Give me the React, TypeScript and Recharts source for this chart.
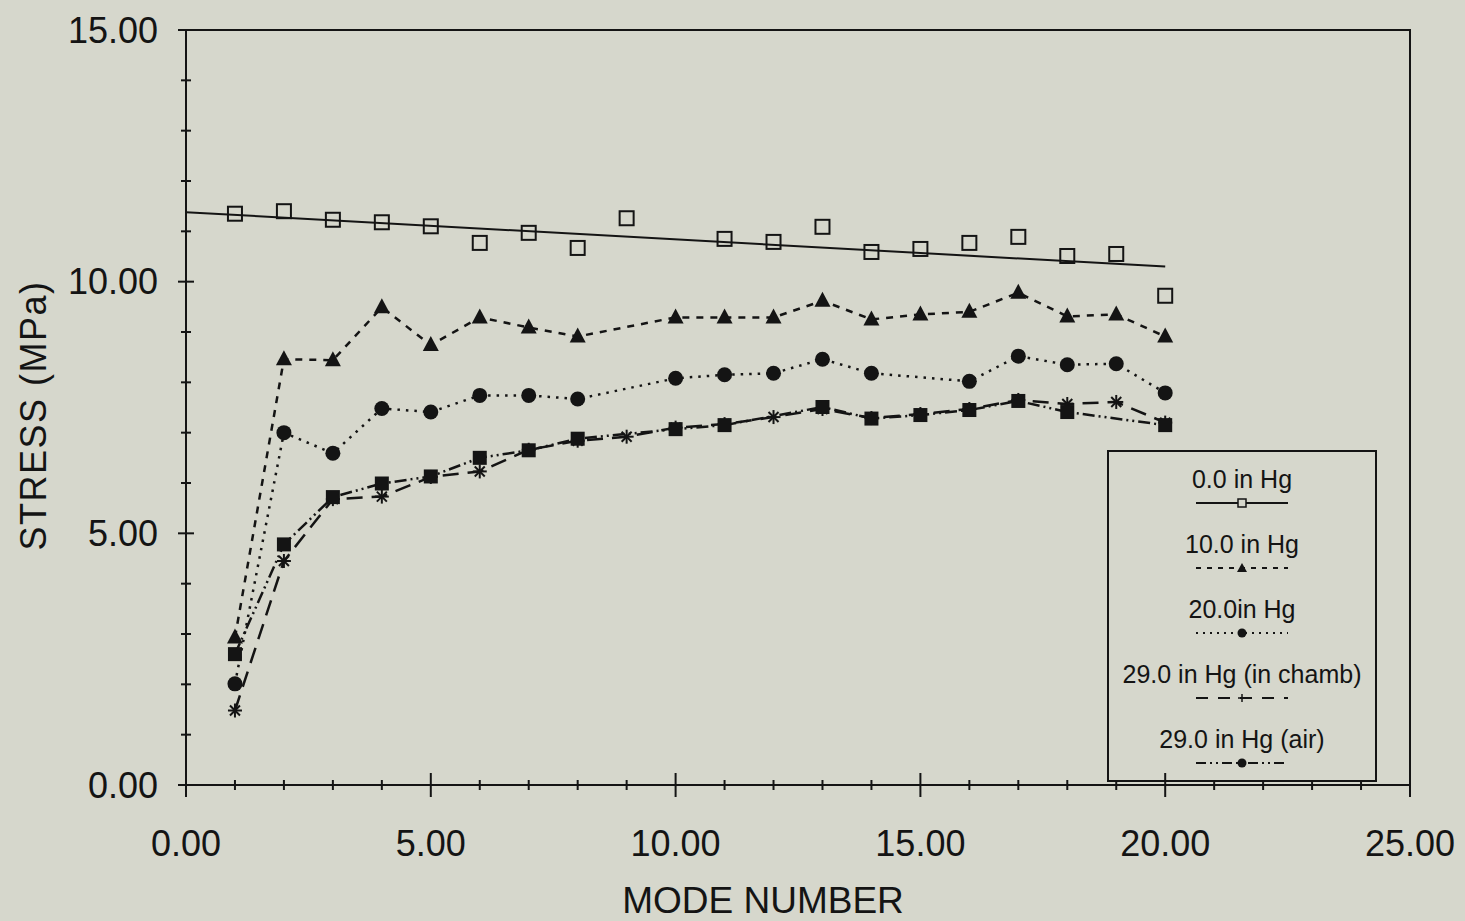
import React from 'react';
import { ComposedChart, Line, XAxis, YAxis, ReferenceArea, Legend } from 'recharts';

// ---------- data ----------
const modes = [1, 2, 3, 4, 5, 6, 7, 8, 9, 10, 11, 12, 13, 14, 15, 16, 17, 18, 19, 20];
const hg0 = [11.35, 11.4, 11.23, 11.18, 11.1, 10.77, 10.97, 10.67, 11.26, null, 10.85, 10.79, 11.09, 10.59, 10.65, 10.77, 10.89, 10.51, 10.55, 9.72];
const hg10 = [2.93, 8.46, 8.44, 9.49, 8.74, 9.29, 9.09, 8.91, null, 9.29, 9.29, 9.29, 9.62, 9.25, 9.35, 9.4, 9.78, 9.31, 9.35, 8.91];
const hg20 = [2.01, 7.0, 6.59, 7.48, 7.41, 7.74, 7.74, 7.67, null, 8.08, 8.15, 8.18, 8.46, 8.18, null, 8.02, 8.52, 8.35, 8.37, 7.79];
const hg29Chamb = [1.48, 4.45, 5.68, 5.73, 6.12, 6.23, 6.66, 6.84, 6.92, 7.1, 7.17, 7.31, 7.47, 7.29, 7.37, 7.47, 7.65, 7.57, 7.61, 7.2];
const hg29Air = [2.6, 4.78, 5.72, 5.99, 6.13, 6.5, 6.65, 6.88, null, 7.07, 7.15, null, 7.51, 7.28, 7.35, 7.45, 7.63, 7.41, null, 7.15];
const fitModes = [0, 20];
const fitValues = [11.38, 10.3];

const xTicks = [0, 1, 2, 3, 4, 5, 6, 7, 8, 9, 10, 11, 12, 13, 14, 15, 16, 17, 18, 19, 20, 21, 22, 23, 24, 25];
const yTicks = [0, 1, 2, 3, 4, 5, 6, 7, 8, 9, 10, 11, 12, 13, 14, 15];
const seriesNames = ['0.0 in Hg', '10.0 in Hg', '20.0in Hg', '29.0 in Hg (in chamb)', '29.0 in Hg (air)'];
const xTitle = 'MODE NUMBER';
const yTitle = 'STRESS (MPa)';

// ---------- build table ----------
type Row = { x: number; fit?: number | null; hg0?: number | null; hg10?: number | null; hg20?: number | null; chamb?: number | null; air?: number | null };
const rows: Row[] = [];
const allX = Array.from(new Set([...fitModes, ...modes])).sort((a, b) => a - b);
allX.forEach((x) => {
  const i = modes.indexOf(x);
  const f = fitModes.indexOf(x);
  rows.push({
    x,
    fit: f >= 0 ? fitValues[f] : null,
    hg0: i >= 0 ? hg0[i] : null,
    hg10: i >= 0 ? hg10[i] : null,
    hg20: i >= 0 ? hg20[i] : null,
    chamb: i >= 0 ? hg29Chamb[i] : null,
    air: i >= 0 ? hg29Air[i] : null,
  });
});

// ---------- styles ----------
const INK = '#141414';
const BG = '#d6d7cc';
const FONT = '"Liberation Sans", Arial, Helvetica, sans-serif';

const ok = (p: any) => p && p.cx != null && p.cy != null && p.value != null && !Number.isNaN(p.cy);

const OpenSquare = (p: any) => {
  if (!ok(p)) return <g key={`os${p.index}`} />;
  return <rect key={`os${p.index}`} x={p.cx - 7} y={p.cy - 7} width={14} height={14} fill="none" stroke={INK} strokeWidth={2} />;
};
const Triangle = (p: any) => {
  if (!ok(p)) return <g key={`tr${p.index}`} />;
  const { cx, cy } = p;
  return <path key={`tr${p.index}`} d={`M${cx},${cy - 9} L${cx + 8},${cy + 6} L${cx - 8},${cy + 6} Z`} fill={INK} />;
};
const Circle = (p: any) => {
  if (!ok(p)) return <g key={`ci${p.index}`} />;
  return <circle key={`ci${p.index}`} cx={p.cx} cy={p.cy} r={7.5} fill={INK} />;
};
const FilledSquare = (p: any) => {
  if (!ok(p)) return <g key={`fs${p.index}`} />;
  return <rect key={`fs${p.index}`} x={p.cx - 7} y={p.cy - 7} width={14} height={14} fill={INK} />;
};
const Star = (p: any) => {
  if (!ok(p)) return <g key={`st${p.index}`} />;
  const { cx, cy } = p;
  const r = 7;
  return (
    <g key={`st${p.index}`} stroke={INK} strokeWidth={2}>
      <line x1={cx} y1={cy - r} x2={cx} y2={cy + r} />
      <line x1={cx - r} y1={cy} x2={cx + r} y2={cy} />
      <line x1={cx - 5} y1={cy - 5} x2={cx + 5} y2={cy + 5} />
      <line x1={cx - 5} y1={cy + 5} x2={cx + 5} y2={cy - 5} />
    </g>
  );
};

const XTick = (p: any) => {
  const { x, y, payload } = p;
  const v = payload.value;
  const major = v % 5 === 0;
  const h = major ? 12 : 5;
  return (
    <g>
      <line x1={x} x2={x} y1={y - h} y2={y + h} stroke={INK} strokeWidth={2} />
      {major && (
        <text x={x} y={y + 58} textAnchor="middle" dominantBaseline="central" fontSize={36} fontFamily={FONT} fill={INK}>
          {v.toFixed(2)}
        </text>
      )}
    </g>
  );
};
const YTick = (p: any) => {
  const { x, y, payload } = p;
  const v = payload.value;
  const major = v % 5 === 0;
  const h = major ? 8 : 5;
  return (
    <g>
      <line x1={x - h} x2={x + h} y1={y} y2={y} stroke={INK} strokeWidth={2} />
      {major && (
        <text x={x - 28} y={y} textAnchor="end" dominantBaseline="central" fontSize={36} fontFamily={FONT} fill={INK}>
          {v.toFixed(2)}
        </text>
      )}
    </g>
  );
};

const legendSamples = [
  { dash: undefined as string | undefined, marker: 'osq' },
  { dash: '5 6', marker: 'tri' },
  { dash: '2 5', marker: 'dot' },
  { dash: '12 10', marker: 'plus' },
  { dash: '10 4 2 4 2 4', marker: 'dot' },
];

const SampleMarker = ({ kind }: { kind: string }) => {
  if (kind === 'osq') return <rect x={46} y={4} width={8} height={8} fill={BG} stroke={INK} strokeWidth={1.5} />;
  if (kind === 'tri') return <path d="M50,3 L55,12 L45,12 Z" fill={INK} />;
  if (kind === 'dot') return <circle cx={50} cy={8} r={4.5} fill={INK} />;
  return (
    <g stroke={INK} strokeWidth={1.5}>
      <line x1={46} y1={8} x2={55} y2={8} />
      <line x1={50} y1={4} x2={50} y2={12} />
    </g>
  );
};

const LegendBox = () => (
  <div
    style={{
      width: 270,
      height: 332,
      boxSizing: 'border-box',
      border: `2px solid ${INK}`,
      paddingTop: 12,
      fontFamily: FONT,
      color: INK,
    }}
  >
    {seriesNames.map((name, i) => (
      <div key={name} style={{ height: 65, display: 'flex', flexDirection: 'column', alignItems: 'center' }}>
        <div style={{ fontSize: 25, lineHeight: '30px', height: 30, whiteSpace: 'nowrap' }}>{name}</div>
        <svg width={100} height={16} style={{ display: 'block', marginTop: 1 }}>
          <line x1={4} x2={96} y1={8} y2={8} stroke={INK} strokeWidth={2} strokeDasharray={legendSamples[i].dash} />
          <SampleMarker kind={legendSamples[i].marker} />
        </svg>
      </div>
    ))}
  </div>
);

const XTitle = (props: any) => {
  const vb = props.viewBox || {};
  return (
    <text x={vb.x + vb.width / 2 - 35} y={900} textAnchor="middle" dominantBaseline="central" fontSize={37} fontFamily={FONT} fill={INK}>
      {xTitle}
    </text>
  );
};
const YTitle = (props: any) => {
  const vb = props.viewBox || {};
  const cy = vb.y + vb.height / 2 + 8;
  return (
    <text x={33} y={cy} transform={`rotate(-90 33 ${cy})`} textAnchor="middle" dominantBaseline="central" fontSize={36} fontFamily={FONT} fill={INK} letterSpacing={1.5}>
      {yTitle}
    </text>
  );
};

export default function App() {
  return (
    <div style={{ position: 'absolute', left: 0, top: 0, width: 1465, height: 921, background: BG }}>
      <ComposedChart width={1465} height={921} data={rows} margin={{ top: 30, right: 55, bottom: 0, left: 0 }}>
        <XAxis
          dataKey="x"
          type="number"
          domain={[0, 25]}
          ticks={xTicks}
          interval={0}
          height={136}
          tickSize={0}
          tickMargin={0}
          tickLine={false}
          axisLine={{ stroke: INK, strokeWidth: 2 }}
          tick={<XTick />}
          label={{ content: <XTitle /> }}
          allowDataOverflow
        />
        <YAxis
          type="number"
          domain={[0, 15]}
          ticks={yTicks}
          interval={0}
          width={186}
          tickSize={0}
          tickMargin={0}
          tickLine={false}
          axisLine={{ stroke: INK, strokeWidth: 2 }}
          tick={<YTick />}
          label={{ content: <YTitle /> }}
          allowDataOverflow
        />
        <ReferenceArea x1={0} x2={25} y1={0} y2={15} fill="none" stroke={INK} strokeWidth={2} fillOpacity={0} />
        <Line dataKey="fit" name="fit" stroke={INK} strokeWidth={2} dot={false} connectNulls isAnimationActive={false} legendType="none" />
        <Line dataKey="hg0" name={seriesNames[0]} stroke="none" dot={OpenSquare} activeDot={false} isAnimationActive={false} />
        <Line dataKey="hg10" name={seriesNames[1]} stroke={INK} strokeWidth={2.5} strokeDasharray="7 7" dot={Triangle} activeDot={false} connectNulls isAnimationActive={false} />
        <Line dataKey="hg20" name={seriesNames[2]} stroke={INK} strokeWidth={2.5} strokeDasharray="2.5 6" dot={Circle} activeDot={false} connectNulls isAnimationActive={false} />
        <Line dataKey="chamb" name={seriesNames[3]} stroke={INK} strokeWidth={2.5} strokeDasharray="16 9" dot={Star} activeDot={false} connectNulls isAnimationActive={false} />
        <Line dataKey="air" name={seriesNames[4]} stroke={INK} strokeWidth={2.5} strokeDasharray="12 4 2 4 2 4" dot={FilledSquare} activeDot={false} connectNulls isAnimationActive={false} />
        <Legend
          layout="horizontal"
          verticalAlign="middle"
          align="center"
          content={<LegendBox />}
          wrapperStyle={{ left: 1107, top: 450, width: 270, height: 332 }}
        />
      </ComposedChart>
    </div>
  );
}
